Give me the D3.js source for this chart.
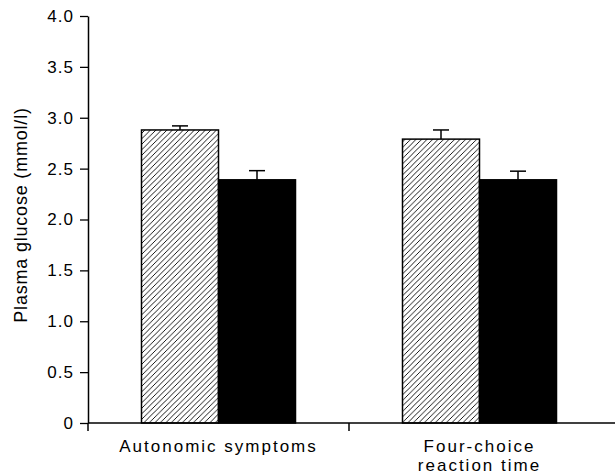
<!DOCTYPE html>
<html>
<head>
<meta charset="utf-8">
<script src="https://cdn.jsdelivr.net/npm/d3@7"></script>
<style>
    body { margin: 0; background: #fff; }
    text { font-family: "Liberation Sans", Arial, sans-serif; fill: #000; }
</style>
</head>
<body>
<svg id="chart" width="615" height="476"></svg>
<script>
// data
let categories = ["Autonomic symptoms", "Four-choice\nreaction time"];
let series = ["hatched", "solid"];
let hatchedValues = [2.88, 2.79];
let hatchedErrors = [0.04, 0.09];
let solidValues = [2.39, 2.39];
let solidErrors = [0.09, 0.085];
let yTicks = [0, 0.5, 1.0, 1.5, 2.0, 2.5, 3.0, 3.5, 4.0];

let svg = d3.select("#chart");

// hatch pattern for the first series
let defs = svg.append("defs");
defs.append("pattern")
    .attr("id", "hatch")
    .attr("patternUnits", "userSpaceOnUse")
    .attr("width", 5.5)
    .attr("height", 5.5)
    .append("path")
    .attr("d", "M0,5.5 L5.5,0 M-1,1 L1,-1 M4.5,6.5 L6.5,4.5")
    .attr("stroke", "#000")
    .attr("stroke-width", 0.9);

let yScale = d3.scaleLinear()
    .domain([0, 4])
    .range([423, 16]);

let x0 = d3.scaleBand()
    .domain(categories)
    .range([88, 610])
    .padding(0);

let barWidth = 77;
let x1 = d3.scaleBand()
    .domain(series)
    .range([(x0.bandwidth() - 2 * barWidth) / 2, (x0.bandwidth() + 2 * barWidth) / 2])
    .padding(0);

let rows = [];
categories.forEach(function(c, i) {
    rows.push({cat: c, s: "hatched", v: hatchedValues[i], e: hatchedErrors[i]});
    rows.push({cat: c, s: "solid", v: solidValues[i], e: solidErrors[i]});
});

// error whiskers (upper only), drawn under the bars
let capHalf = 8;
let err = svg.append("g").selectAll("g")
    .data(rows)
    .enter().append("g");
err.append("line")
    .attr("x1", d => x0(d.cat) + x1(d.s) + x1.bandwidth() / 2)
    .attr("x2", d => x0(d.cat) + x1(d.s) + x1.bandwidth() / 2)
    .attr("y1", d => yScale(d.v))
    .attr("y2", d => yScale(d.v + d.e))
    .attr("stroke", "#000")
    .attr("stroke-width", 1.5);
err.append("line")
    .attr("x1", d => x0(d.cat) + x1(d.s) + x1.bandwidth() / 2 - capHalf)
    .attr("x2", d => x0(d.cat) + x1(d.s) + x1.bandwidth() / 2 + capHalf)
    .attr("y1", d => yScale(d.v + d.e))
    .attr("y2", d => yScale(d.v + d.e))
    .attr("stroke", "#000")
    .attr("stroke-width", 1.5);

// bars
svg.append("g").selectAll("rect")
    .data(rows)
    .enter().append("rect")
    .attr("x", d => x0(d.cat) + x1(d.s))
    .attr("y", d => yScale(d.v))
    .attr("width", x1.bandwidth())
    .attr("height", d => yScale(0) - yScale(d.v))
    .attr("fill", d => d.s === "hatched" ? "url(#hatch)" : "#000")
    .attr("stroke", "#000")
    .attr("stroke-width", 1.5);

// y axis
let yAxis = d3.axisLeft(yScale)
    .tickValues(yTicks)
    .tickSize(8)
    .tickSizeOuter(0)
    .tickPadding(6)
    .tickFormat(d => d === 0 ? "0" : d.toFixed(1));
let yg = svg.append("g")
    .attr("transform", "translate(88,0)")
    .call(yAxis);
yg.select(".domain").attr("stroke-width", 1.5);
yg.selectAll(".tick line").attr("stroke-width", 1.3);
yg.selectAll(".tick text")
    .style("font-size", "17px")
    .style("letter-spacing", "1px");

// x axis: baseline plus ticks at the group boundaries
let xg = svg.append("g");
xg.append("line")
    .attr("x1", x0.range()[0])
    .attr("x2", 615)
    .attr("y1", yScale(0))
    .attr("y2", yScale(0))
    .attr("stroke", "#000")
    .attr("stroke-width", 1.5);
xg.selectAll(".xtick")
    .data(categories)
    .enter().append("line")
    .attr("class", "xtick")
    .attr("x1", d => x0(d))
    .attr("x2", d => x0(d))
    .attr("y1", yScale(0))
    .attr("y2", yScale(0) + 8)
    .attr("stroke", "#000")
    .attr("stroke-width", 1.5);

// category labels, one text per line
categories.forEach(function(d) {
    d.split("\n").forEach(function(l, i) {
        xg.append("text")
            .attr("class", "xlabel")
            .attr("x", x0(d) + x0.bandwidth() / 2)
            .attr("y", 451.5 + i * 19.5)
            .attr("text-anchor", "middle")
            .style("font-size", "17px")
            .style("letter-spacing", "2px")
            .text(l);
    });
});

// y label
svg.append("text")
    .attr("transform", "translate(27,215) rotate(-90)")
    .attr("text-anchor", "middle")
    .style("font-size", "18px")
    .style("letter-spacing", "0.8px")
    .text("Plasma glucose (mmol/l)");
</script>
</body>
</html>
